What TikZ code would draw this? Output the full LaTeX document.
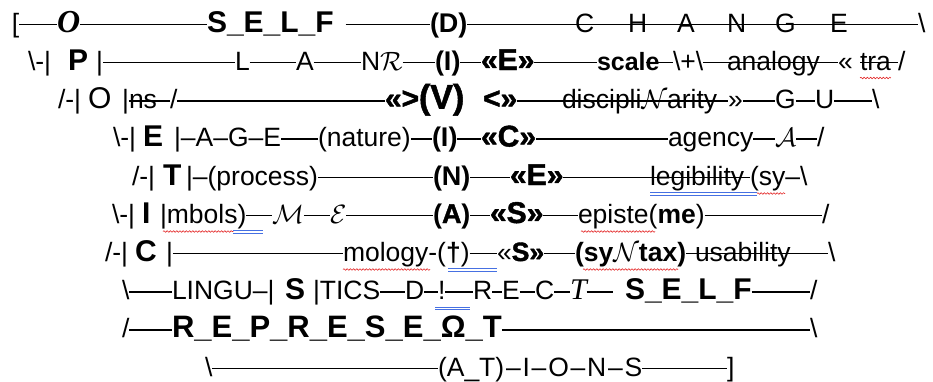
\RequirePackage{fix-cm}
\documentclass[tikz,border=0pt]{standalone}
\usepackage{fontspec}
\setmainfont{Liberation Sans}
\newfontfamily\lserif{Liberation Serif}
\newfontfamily\heavy{Liberation Sans}[FakeBold=1.5]
\usetikzlibrary{decorations.pathmorphing}
\definecolor{spellred}{RGB}{228,40,40}
\definecolor{gramblue}{RGB}{70,112,226}
\newcommand\rgsz{\fontsize{26.5}{30}\selectfont}
\newcommand\spacedash{\kern1.8pt–\kern1.8pt}
\newlength\dashup \setlength\dashup{7.5pt}
\tikzset{
  t/.style={anchor=base west, inner sep=0pt, outer sep=0pt, font=\rgsz},
  bg/.style={t, font=\fontsize{30}{32}\selectfont\bfseries},
  bd/.style={t, font=\fontsize{27}{30}\selectfont\bfseries},
  hv/.style={t, font=\fontsize{30}{32}\heavy\bfseries},
  si/.style={t, font=\fontsize{30}{32}\lserif\itshape},
  ln/.style={line width=1.6pt},
  sq/.style={draw=spellred, line width=0.6pt, decorate,
    decoration={snake, amplitude=0.8pt, segment length=3.2pt}},
  ul/.style={draw=gramblue, line width=0.6pt},
}
% dash line between two text nodes, at em-dash height
\newcommand\dl[2]{\draw[ln] ([yshift=\dashup]#1.base east) -- ([yshift=\dashup]#2.base west);}
\begin{document}
\begin{tikzpicture}[x=1pt, y=-1pt]
\fill[white] (0,0) rectangle (933,381);
\useasboundingbox (0,0) rectangle (933,381);

% ---- line 1
\node[t]  (a1) at (12,32) {[};
\node[si, font=\fontsize{32}{32}\lserif\bfseries\itshape] (a2) at (57,32) {O};
\node[bg] (a3) at (207,32) {S\_E\_L\_F};
\node[bd] (a4) at (430,32) {(D)};
\node[t]  (a5) at (575,32) {C};
\node[t]  (a6) at (628,32) {H};
\node[t]  (a7) at (677,32) {A};
\node[t]  (a8) at (727,32) {N};
\node[t]  (a9) at (775,32) {G};
\node[t]  (a10) at (830,32) {E};
\node[t]  (a11) at (918,32) {\textbackslash};
\dl{a1}{a2} \dl{a2}{a3}
\draw[ln] ([xshift=12pt,yshift=\dashup]a3.base east) -- ([yshift=\dashup]a4.base west);
\dl{a4}{a11}

% ---- line 2
\node[t]  (b1) at (28,70) {\textbackslash-|};
\node[bg] (b2) at (68,70) {P};
\node[t]  (b3) at (96,70) {|};
\node[t]  (b4) at (235,70) {L};
\node[t]  (b5) at (296,70) {A};
\node[t]  (b6) at (361,70) {N$\mathcal{R}$};
\node[bd] (b7) at (435,70) {(I)};
\node[hv] (b8) at (481,70) {«E»};
\node[t, font=\fontsize{25}{30}\selectfont\bfseries] (b9) at (597,70) {scale};
\node[t]  (b10) at (673,70) {\textbackslash+\textbackslash};
\node[t]  (b11) at (727,70) {analogy};
\node[t]  (b12) at (838,70) {«};
\node[t]  (b13) at (860,70) {tra};
\node[t]  (b14) at (898,70) {/};
\dl{b3}{b4} \dl{b4}{b5} \dl{b5}{b6} \dl{b6}{b7} \dl{b7}{b8} \dl{b8}{b9}
\draw[ln] ([xshift=-14pt,yshift=\dashup]b9.base east) -- ([yshift=\dashup]b10.base west);
\dl{b10}{b12}
\draw[ln] ([yshift=\dashup]b13.base west) -- ([yshift=\dashup]b14.base west);
\draw[sq] ([yshift=-8pt]b13.base west) -- ([yshift=-8pt]b13.base east);

% ---- line 3
\node[t]  (c1) at (58,108.5) {/-|};
\node[t, font=\fontsize{30}{32}\selectfont] (c2) at (88,108.5) {O};
\node[t]  (c3) at (122,108.5) {|};
\node[t]  (c4) at (129,108.5) {ns};
\node[t]  (c5) at (170,108.5) {/};
\node[hv] (c6) at (385,108.5) {«>};
\node[hv, font=\fontsize{34}{34}\heavy\bfseries] (c7) at (419,108.5) {(V)};
\node[hv] (c8) at (483,108.5) {<»};
\node[t]  (c9) at (562,108.5) {discipli$\mathcal{N}$arity};
\node[t]  (c10) at (728,108.5) {»};
\node[t]  (c11) at (775,108.5) {G};
\node[t]  (c12) at (815,108.5) {U};
\node[t]  (c13) at (872,108.5) {\textbackslash};
\draw[ln] ([yshift=\dashup]c3.base east) -- ([yshift=\dashup]c5.base west);
\dl{c5}{c6} \dl{c8}{c10} \dl{c10}{c11} \dl{c11}{c12} \dl{c12}{c13}

% ---- line 4
\node[t]  (d1) at (113,146.5) {\textbackslash-|};
\node[bg] (d2) at (143,146.5) {E};
\node[t]  (d3) at (174,146.5) {|–A–G–E};
\node[t]  (d4) at (318,146.5) {(nature)};
\node[bd] (d5) at (432,146.5) {(I)};
\node[hv] (d6) at (481,146.5) {«C»};
\node[t]  (d7) at (668,146.5) {agency};
\node[t]  (d8) at (775,146.5) {$\mathcal{A}$};
\node[t]  (d9) at (817,146.5) {/};
\dl{d3}{d4} \dl{d4}{d5} \dl{d5}{d6} \dl{d6}{d7} \dl{d7}{d8} \dl{d8}{d9}

% ---- line 5
\node[t]  (e1) at (132,185) {/-|};
\node[bg] (e2) at (163,185) {T};
\node[t]  (e3) at (186,185) {|–(process)};
\node[bd] (e4) at (433,185) {(N)};
\node[hv] (e5) at (510,185) {«E»};
\node[t]  (e6) at (650,185) {legibility};
\node[t]  (e7) at (750,185) {(sy–\textbackslash};
\dl{e3}{e4} \dl{e4}{e5} \dl{e5}{e7}
\draw[ul] ([yshift=-7.5pt]e6.base west) -- ([xshift=7pt,yshift=-7.5pt]e7.base west);
\draw[ul] ([yshift=-10pt]e6.base west) -- ([xshift=7pt,yshift=-10pt]e7.base west);
\draw[sq] ([xshift=7pt,yshift=-8.5pt]e7.base west) -- ([xshift=35pt,yshift=-8.5pt]e7.base west);

% ---- line 6
\node[t]  (f1) at (112,223) {\textbackslash-|};
\node[bg] (f2) at (142,223) {I};
\node[t]  (f3) at (160,223) {|mbols)};
\node[t]  (f4) at (272,223) {$\mathcal{M}$};
\node[t]  (f5) at (330,223) {$\mathcal{E}$};
\node[bd] (f6) at (433,223) {({\heavy A})};
\node[hv] (f7) at (490,223) {«S»};
\node[t]  (f8) at (578,223) {episte(\textbf{me})};
\node[t]  (f9) at (822,223) {/};
\dl{f3}{f4} \dl{f4}{f5} \dl{f5}{f6} \dl{f6}{f7} \dl{f7}{f8} \dl{f8}{f9}
\draw[sq] ([xshift=3pt,yshift=-8.5pt]f3.base west) -- ([xshift=-13pt,yshift=-8.5pt]f3.base east);
\draw[ul] ([xshift=-13pt,yshift=-7.5pt]f3.base east) -- ([xshift=-9pt,yshift=-7.5pt]f4.base west);
\draw[ul] ([xshift=-13pt,yshift=-10pt]f3.base east) -- ([xshift=-9pt,yshift=-10pt]f4.base west);
\draw[sq] ([xshift=3pt,yshift=-8.5pt]f8.base west) -- ([xshift=77pt,yshift=-8.5pt]f8.base west);

% ---- line 7
\node[t]  (g1) at (105,261) {/-|};
\node[bg] (g2) at (135,261) {C};
\node[t]  (g3) at (166,261) {|};
\node[t]  (g4) at (343,261) {mology-(\textbf{†})};
\node[t]  (g5) at (497,261) {«{\heavy\bfseries S»}};
\node[t, font=\rgsz\bfseries] (g6) at (575,261) {(sy$\mathcal{N}$tax)};
\node[t]  (g7) at (695,261) {usability};
\node[t]  (g8) at (828,261) {\textbackslash};
\dl{g3}{g4} \dl{g4}{g5} \dl{g5}{g6} \dl{g6}{g8}
\draw[sq] ([yshift=-8.5pt]g4.base west) -- ([xshift=87pt,yshift=-8.5pt]g4.base west);
\draw[ul] ([xshift=105pt,yshift=-7.5pt]g4.base west) -- ([yshift=-7.5pt]g5.base west);
\draw[ul] ([xshift=105pt,yshift=-10pt]g4.base west) -- ([yshift=-10pt]g5.base west);
\draw[sq] ([xshift=8pt,yshift=-8.5pt]g6.base west) -- ([xshift=-8pt,yshift=-8.5pt]g6.base east);

% ---- line 8
\node[t]  (h1) at (122,299.5) {\textbackslash};
\node[t]  (h2) at (172,299.5) {LINGU–|};
\node[bg] (h3) at (285,299.5) {S};
\node[t]  (h4) at (313,299.5) {|TICS};
\node[t]  (h5) at (405,299.5) {D};
\node[t]  (h6) at (438,299.5) {!};
\node[t]  (h7) at (473,299.5) {R};
\node[t]  (h8) at (502,299.5) {E};
\node[t]  (h9) at (535,299.5) {C};
\node[si] (h10) at (570,299.5) {T};
\node[bg] (h11) at (625,299.5) {S\_E\_L\_F};
\node[t]  (h12) at (810,299.5) {/};
\dl{h1}{h2} \dl{h4}{h5} \dl{h5}{h6} \dl{h6}{h7} \dl{h7}{h8} \dl{h8}{h9} \dl{h9}{h10}
\draw[ln] ([yshift=\dashup]h10.base east) -- ([xshift=-12pt,yshift=\dashup]h11.base west);
\dl{h11}{h12}
\draw[ul] ([xshift=-3pt,yshift=-7.5pt]h6.base west) -- ([xshift=-3pt,yshift=-7.5pt]h7.base west);
\draw[ul] ([xshift=-3pt,yshift=-10pt]h6.base west) -- ([xshift=-3pt,yshift=-10pt]h7.base west);

% ---- line 9
\node[t]  (i1) at (122,337.5) {/};
\node[bg, font=\fontsize{31}{32}\selectfont\bfseries] (i2) at (172,337.5) {R\_E\_P\_R\_E\_S\_E\_Ω\_T};
\node[t]  (i3) at (810,337.5) {\textbackslash};
\dl{i1}{i2} \dl{i2}{i3}

% ---- line 10
\node[t]  (j1) at (205,376) {\textbackslash};
\node[t]  (j2) at (438,376) {(A\_T)\spacedash I\spacedash O\spacedash N\spacedash S};
\node[t]  (j3) at (727,376) {]};
\dl{j1}{j2} \dl{j2}{j3}
\end{tikzpicture}
\end{document}
